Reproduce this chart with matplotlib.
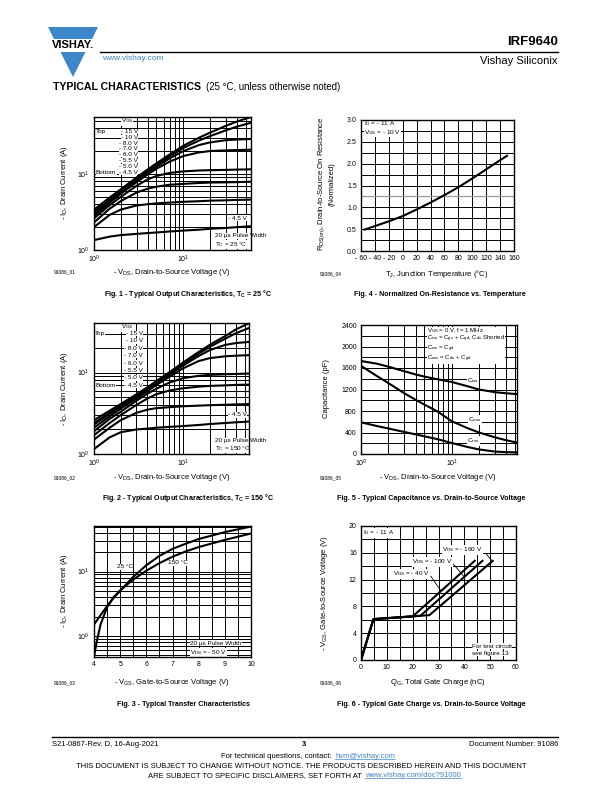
import matplotlib.pyplot as plt
from matplotlib.patches import Polygon, Rectangle
from matplotlib.lines import Line2D
from matplotlib.ticker import NullFormatter, MultipleLocator

plt.rcParams['font.family'] = ['Liberation Sans', 'DejaVu Sans']
plt.rcParams['mathtext.fontset'] = 'custom'
plt.rcParams['mathtext.rm'] = 'Liberation Sans'
plt.rcParams['mathtext.it'] = 'Liberation Sans'
plt.rcParams['mathtext.bf'] = 'Liberation Sans:bold'

# -------------------------
# data
# -------------------------
vgs_labels = ['- 15 V', '- 10 V', '- 8.0 V', '- 7.0 V', '- 6.0 V', '- 5.5 V', '- 5.0 V', '- 4.5 V']

# Fig. 1, Tc = 25 C
vds_25 = [1, 1.5, 2, 3, 4, 5, 7, 10, 15, 20, 30, 40, 57]
id_25 = [
    [3.4, 4.9, 6.3, 9.0, 11.5, 13.8, 18.0, 23.5, 30.0, 35.0, 43.0, 49.0, 56.0],
    [3.2, 4.6, 6.0, 8.6, 11.0, 13.2, 17.0, 22.0, 27.5, 31.5, 37.5, 42.0, 47.0],
    [3.0, 4.4, 5.7, 8.2, 10.5, 12.5, 16.0, 20.0, 24.0, 26.0, 27.8, 28.3, 28.8],
    [2.8, 4.2, 5.5, 7.8, 9.9, 11.7, 14.5, 17.2, 19.2, 20.0, 20.4, 20.6, 20.8],
    [2.6, 3.9, 5.0, 7.0, 8.5, 9.4, 10.3, 10.8, 11.1, 11.2, 11.3, 11.4, 11.5],
    [2.3, 3.5, 4.4, 5.7, 6.4, 6.8, 7.2, 7.4, 7.6, 7.7, 7.75, 7.8, 7.9],
    [2.0, 2.9, 3.4, 3.85, 4.0, 4.1, 4.2, 4.3, 4.38, 4.45, 4.5, 4.55, 4.6],
    [1.35, 1.5, 1.57, 1.63, 1.67, 1.7, 1.75, 1.8, 1.85, 1.9, 1.95, 2.0, 2.05],
]

# Fig. 2, Tc = 150 C
vds_150 = [1, 1.5, 2, 3, 4, 5, 7, 10, 15, 20, 30, 40, 55]
id_150 = [
    [2.6, 3.4, 4.1, 5.4, 6.6, 7.8, 10.0, 13.2, 17.8, 21.8, 28.0, 34.0, 40.0],
    [2.4, 3.2, 3.9, 5.2, 6.4, 7.5, 9.6, 12.7, 17.0, 20.6, 26.0, 30.5, 35.0],
    [2.3, 3.1, 3.8, 5.0, 6.2, 7.3, 9.3, 12.1, 15.9, 18.8, 21.8, 23.0, 23.7],
    [2.1, 2.9, 3.6, 4.8, 5.9, 7.0, 8.8, 11.2, 13.8, 15.0, 15.8, 16.1, 16.3],
    [1.9, 2.7, 3.3, 4.5, 5.5, 6.3, 7.5, 8.5, 9.1, 9.35, 9.5, 9.6, 9.7],
    [1.7, 2.4, 3.0, 4.0, 4.8, 5.4, 6.0, 6.4, 6.7, 6.85, 6.95, 7.05, 7.1],
    [1.5, 2.1, 2.6, 3.2, 3.5, 3.65, 3.75, 3.85, 3.92, 3.97, 4.02, 4.06, 4.1],
    [1.15, 1.6, 1.85, 2.0, 2.05, 2.1, 2.15, 2.2, 2.27, 2.33, 2.4, 2.45, 2.5],
]

# Fig. 3, transfer characteristics
vgs_t25 = [4, 4.25, 4.5, 4.75, 5, 5.5, 6, 6.5, 7, 7.5, 8, 9, 10]
id_t25 = [1.5, 2.1, 2.9, 3.9, 5.0, 8.3, 12.5, 17.5, 22.5, 27.0, 32.0, 41.0, 50.0]
vgs_t150 = [4, 4.1, 4.25, 4.5, 4.75, 5, 5.5, 6, 6.5, 7, 7.5, 8, 9, 10]
id_t150 = [0.47, 0.8, 1.5, 2.8, 4.0, 5.1, 7.5, 10.3, 13.5, 17.0, 20.5, 24.0, 31.0, 39.0]

# Fig. 4, normalized on-resistance
tj = [-55, -40, -20, 0, 20, 40, 60, 80, 100, 120, 140, 150]
rds_norm = [0.49, 0.57, 0.68, 0.80, 0.95, 1.11, 1.28, 1.46, 1.66, 1.87, 2.08, 2.18]

# Fig. 5, capacitance
vds_cap = [1, 1.5, 2, 3, 4, 5, 7, 10, 15, 20, 30, 40, 52]
c_iss = [1730, 1680, 1625, 1540, 1480, 1440, 1390, 1340, 1260, 1200, 1150, 1130, 1115]
c_oss = [1640, 1450, 1320, 1130, 1010, 920, 790, 610, 480, 400, 310, 255, 215]
c_rss = [590, 520, 475, 410, 365, 330, 275, 205, 130, 85, 45, 35, 30]

# Fig. 6, gate charge
qg_40 = [0, 4.8, 20, 44]
vg_40 = [0, 6.1, 6.5, 14.8]
qg_100 = [0, 4.8, 23, 47]
vg_100 = [0, 6.1, 6.6, 14.8]
qg_160 = [0, 4.8, 26.5, 51]
vg_160 = [0, 6.1, 6.7, 14.8]

W, H = 612, 792
fig = plt.figure(figsize=(W / 100, H / 100), dpi=100)


def fx(x):
    return x / W


def fy(y):
    return 1 - y / H


def rect(l, r, t, b):
    return [l / W, 1 - b / H, (r - l) / W, (b - t) / H]


def ftext(x, y, s, **kw):
    kw.setdefault('fontsize', 5)
    kw.setdefault('va', 'center')
    return fig.text(fx(x), fy(y), s, **kw)


def atext(ax, x, y, s, **kw):
    # text placed in page pixels but drawn inside the axes (above grid, below curves)
    kw.setdefault('fontsize', 4.6)
    kw.setdefault('va', 'center')
    return ax.text(fx(x), fy(y), s, transform=fig.transFigure, zorder=2.5,
                   bbox=dict(facecolor='white', edgecolor='none', pad=0.1), **kw)


def style(ax):
    ax.set_axisbelow(True)
    ax.grid(True, which='both', color='black', lw=0.7)
    ax.tick_params(which='both', length=0, labelsize=5, pad=3)
    ax.xaxis.set_minor_formatter(NullFormatter())
    ax.yaxis.set_minor_formatter(NullFormatter())
    for s in ax.spines.values():
        s.set_linewidth(1.0)


dec = [r'10$^\mathrm{0}$', r'10$^\mathrm{1}$']

# -------------------------
# header
# -------------------------
blue = '#3d86c9'
fig.patches.append(Polygon([(fx(48), fy(27)), (fx(98), fy(27)), (fx(73), fy(77))],
                           closed=True, facecolor=blue, edgecolor='none',
                           transform=fig.transFigure, figure=fig))
fig.patches.append(Rectangle((fx(44), fy(52)), 60 / W, 13 / H, facecolor='white',
                             edgecolor='none', transform=fig.transFigure, figure=fig))
ftext(73, 45.5, 'VISHAY.', fontsize=8, weight='bold', ha='center')
fig.lines.append(Line2D([fx(100), fx(558)], [fy(52), fy(52)], color='black', lw=1.0,
                        transform=fig.transFigure))
ftext(558, 42, 'IRF9640', fontsize=9.5, weight='bold', ha='right')
ftext(558, 61.5, 'Vishay Siliconix', fontsize=8, ha='right')
ftext(102, 58.5, 'www.vishay.com', fontsize=6, color=blue)
ftext(53, 87, 'TYPICAL CHARACTERISTICS', fontsize=7.6, weight='bold')
ftext(206, 87, '(25 °C, unless otherwise noted)', fontsize=6.9)

# -------------------------
# Fig. 1
# -------------------------
ax1 = fig.add_axes(rect(94, 251, 117, 250))
ax1.set_xscale('log')
ax1.set_yscale('log')
for ids in id_25:
    ax1.plot(vds_25, ids, color='black', lw=1.5, zorder=3)
ax1.set_xlim(1, 57)
ax1.set_ylim(1, 56)
ax1.set_xticks([1, 10], dec)
ax1.set_yticks([1, 10], dec)
style(ax1)
atext(ax1, 127, 121, r'V$_\mathrm{GS}$', ha='center')
for i, lab in enumerate(vgs_labels):
    atext(ax1, 138, 131.5 + i * 5.8, lab, ha='right')
atext(ax1, 96, 131.5, 'Top')
atext(ax1, 96, 172, 'Bottom')
atext(ax1, 247, 218, '- 4.5 V', ha='right')
atext(ax1, 215, 236, '20 µs Pulse Width')
atext(ax1, 215, 244.5, r'T$_\mathrm{C}$ = 25 °C')

# -------------------------
# Fig. 4
# -------------------------
ax4 = fig.add_axes(rect(361, 514, 120, 251))
ax4.plot(tj, rds_norm, color='black', lw=1.5, zorder=3)
ax4.axhline(1.25, color='#999999', lw=0.9, zorder=1)
ax4.set_xlim(-60, 160)
ax4.set_ylim(0, 3.0)
xt = list(range(-60, 161, 20))
ax4.set_xticks(xt, [f'- {abs(v)}' if v < 0 else str(v) for v in xt])
ax4.set_yticks([0, 0.5, 1.0, 1.5, 2.0, 2.5, 3.0], ['0.0', '0.5', '1.0', '1.5', '2.0', '2.5', '3.0'])
ax4.yaxis.set_minor_locator(MultipleLocator(0.25))
style(ax4)
atext(ax4, 364, 124, r'I$_\mathrm{D}$ = - 11 A')
atext(ax4, 364, 132.5, r'V$_\mathrm{GS}$ = - 10 V')

# -------------------------
# Fig. 2
# -------------------------
ax2 = fig.add_axes(rect(94, 249, 323, 454))
ax2.set_xscale('log')
ax2.set_yscale('log')
for ids in id_150:
    ax2.plot(vds_150, ids, color='black', lw=1.5, zorder=3)
ax2.set_xlim(1, 55.6)
ax2.set_ylim(1, 40.5)
ax2.set_xticks([1, 10], dec)
ax2.set_yticks([1, 10], dec)
style(ax2)
atext(ax2, 127, 327, r'V$_\mathrm{GS}$', ha='center')
for i, lab in enumerate(vgs_labels):
    atext(ax2, 143, 333.5 + i * 7.4, lab, ha='right')
atext(ax2, 95, 333.5, 'Top')
atext(ax2, 95, 385.5, 'Bottom')
atext(ax2, 247, 415, '- 4.5 V', ha='right')
atext(ax2, 215, 441, '20 µs Pulse Width')
atext(ax2, 215, 448.5, r'T$_\mathrm{C}$ = 150 °C')

# -------------------------
# Fig. 5
# -------------------------
ax5 = fig.add_axes(rect(361, 517, 325, 454))
ax5.set_xscale('log')
ax5.plot(vds_cap, c_iss, color='black', lw=1.5, zorder=3)
ax5.plot(vds_cap, c_oss, color='black', lw=1.5, zorder=3)
ax5.plot(vds_cap, c_rss, color='black', lw=1.5, zorder=3)
ax5.set_xlim(1, 52.5)
ax5.set_ylim(0, 2400)
ax5.set_xticks([1, 10], dec)
ax5.set_yticks(range(0, 2401, 400))
ax5.yaxis.set_minor_locator(MultipleLocator(200))
style(ax5)
cap_note = '\n'.join([
    r'V$_\mathrm{GS}$ = 0 V, f = 1 MHz',
    r'C$_\mathrm{iss}$ = C$_\mathrm{gs}$ + C$_\mathrm{gd}$, C$_\mathrm{ds}$ Shorted',
    r'C$_\mathrm{rss}$ = C$_\mathrm{gd}$',
    r'C$_\mathrm{oss}$ = C$_\mathrm{ds}$ + C$_\mathrm{gd}$',
])
atext(ax5, 427, 326, cap_note, fontsize=4.3, va='top', linespacing=0.9)
atext(ax5, 467, 380.5, r'C$_\mathrm{iss}$')
atext(ax5, 468, 420, r'C$_\mathrm{oss}$')
atext(ax5, 467, 441, r'C$_\mathrm{rss}$')

# -------------------------
# Fig. 3
# -------------------------
ax3 = fig.add_axes(rect(94, 251, 526, 657))
ax3.set_yscale('log')
ax3.plot(vgs_t25, id_t25, color='black', lw=1.5, zorder=3)
ax3.plot(vgs_t150, id_t150, color='black', lw=1.5, zorder=3)
ax3.set_xlim(4, 10)
ax3.set_ylim(0.47, 51)
ax3.set_xticks(range(4, 11))
ax3.xaxis.set_minor_locator(MultipleLocator(0.5))
ax3.set_yticks([1, 10], dec)
style(ax3)
atext(ax3, 117, 567, '25 °C')
atext(ax3, 168, 563, '150 °C')
atext(ax3, 190, 643, '20 µs Pulse Width')
atext(ax3, 190, 652.5, r'V$_\mathrm{DS}$ = - 50 V')

# -------------------------
# Fig. 6
# -------------------------
ax6 = fig.add_axes(rect(361, 516, 526, 660))
ax6.plot(qg_40, vg_40, color='black', lw=1.5, zorder=3)
ax6.plot(qg_100, vg_100, color='black', lw=1.5, zorder=3)
ax6.plot(qg_160, vg_160, color='black', lw=1.5, zorder=3)
ax6.set_xlim(0, 60)
ax6.set_ylim(0, 20)
ax6.set_xticks(range(0, 61, 10))
ax6.set_yticks(range(0, 21, 4))
ax6.xaxis.set_minor_locator(MultipleLocator(5))
ax6.yaxis.set_minor_locator(MultipleLocator(2))
style(ax6)
atext(ax6, 363, 533, r'I$_\mathrm{D}$ = - 11 A')
atext(ax6, 442, 550, r'V$_\mathrm{DS}$ = - 160 V')
atext(ax6, 412, 562, r'V$_\mathrm{DS}$ = - 100 V')
atext(ax6, 393, 574, r'V$_\mathrm{DS}$ = - 40 V')
ax6.plot([48.3, 50.5], [15.9, 14.9], color='black', lw=0.6, zorder=3)
ax6.plot([35.8, 40.0], [14.3, 12.4], color='black', lw=0.6, zorder=3)
ax6.plot([27.0, 31.0], [12.5, 10.3], color='black', lw=0.6, zorder=3)
atext(ax6, 472, 646, 'For test circuit')
atext(ax6, 472, 653.5, 'see figure 13')

# -------------------------
# axis labels, ids, captions
# -------------------------
ftext(64, 183, r'- I$_\mathrm{D}$, Drain Current (A)', fontsize=5.5, rotation=90, ha='center')
ftext(64, 389, r'- I$_\mathrm{D}$, Drain Current (A)', fontsize=5.5, rotation=90, ha='center')
ftext(64, 591, r'- I$_\mathrm{D}$, Drain Current (A)', fontsize=5.5, rotation=90, ha='center')
ftext(322, 184, r'R$_\mathrm{DS(on)}$, Drain-to-Source On Resistance', fontsize=5.5, rotation=90, ha='center')
ftext(332.5, 184, '(Normalized)', fontsize=5.5, rotation=90, ha='center')
ftext(326, 389, 'Capacitance (pF)', fontsize=5.5, rotation=90, ha='center')
ftext(325, 593, r'- V$_\mathrm{GS}$, Gate-to-Source Voltage (V)', fontsize=5.5, rotation=90, ha='center')

ftext(172, 272, r'- V$_\mathrm{DS}$, Drain-to-Source Voltage (V)', fontsize=5.5, ha='center')
ftext(437, 274, r'T$_\mathrm{J}$, Junction Temperature (°C)', fontsize=5.5, ha='center')
ftext(172, 478, r'- V$_\mathrm{DS}$, Drain-to-Source Voltage (V)', fontsize=5.5, ha='center')
ftext(438, 478, r'- V$_\mathrm{DS}$, Drain-to-Source Voltage (V)', fontsize=5.5, ha='center')
ftext(172, 683, r'- V$_\mathrm{GS}$, Gate-to-Source Voltage (V)', fontsize=5.5, ha='center')
ftext(438, 683, r'Q$_\mathrm{G}$, Total Gate Charge (nC)', fontsize=5.5, ha='center')

for x, y, s in [(54, 272, '91086_01'), (320, 274, '91086_04'), (54, 478, '91086_02'),
                (320, 478, '91086_05'), (54, 683, '91086_03'), (320, 683, '91086_06')]:
    ftext(x, y, s, fontsize=3.5)

cap = dict(fontsize=5.1, weight='bold', ha='center')
ftext(188, 294, r'Fig. 1 - Typical Output Characteristics, T$_\mathbf{C}$ = 25 °C', **cap)
ftext(440, 294, 'Fig. 4 - Normalized On-Resistance vs. Temperature', **cap)
ftext(188, 498, r'Fig. 2 - Typical Output Characteristics, T$_\mathbf{C}$ = 150 °C', **cap)
ftext(431, 498, 'Fig. 5 - Typical Capacitance vs. Drain-to-Source Voltage', **cap)
ftext(183, 704, 'Fig. 3 - Typical Transfer Characteristics', **cap)
ftext(431, 704, 'Fig. 6 - Typical Gate Charge vs. Drain-to-Source Voltage', **cap)

# -------------------------
# footer
# -------------------------
fig.lines.append(Line2D([fx(52), fx(558)], [fy(737), fy(737)], color='black', lw=1.0,
                        transform=fig.transFigure))
ftext(52, 744, 'S21-0867-Rev. D, 16-Aug-2021', fontsize=5.5)
ftext(304, 744.5, '3', fontsize=5.5, weight='bold', ha='center')
ftext(558, 744, 'Document Number: 91086', fontsize=5.5, ha='right')
ftext(334, 756, 'For technical questions, contact: ', fontsize=5.5, ha='right')
l1 = ftext(335, 756, 'hvm@vishay.com', fontsize=5.5, color=blue)
ftext(301, 767, 'THIS DOCUMENT IS SUBJECT TO CHANGE WITHOUT NOTICE. THE PRODUCTS DESCRIBED HEREIN AND THIS DOCUMENT',
      fontsize=5.5, ha='center')
ftext(364, 775.5, 'ARE SUBJECT TO SPECIFIC DISCLAIMERS, SET FORTH AT ', fontsize=5.5, ha='right')
l2 = ftext(365, 775.5, 'www.vishay.com/doc?91000', fontsize=5.5, color=blue)

fig.canvas.draw()
inv = fig.transFigure.inverted()
for lt in (l1, l2):
    bb = lt.get_window_extent()
    (x0, y0), (x1, _) = inv.transform([(bb.x0, bb.y0 + 0.8), (bb.x1, bb.y0 + 0.8)])
    fig.lines.append(Line2D([x0, x1], [y0, y0], color=blue, lw=0.5, transform=fig.transFigure))

fig.savefig('out.png', dpi=100)
